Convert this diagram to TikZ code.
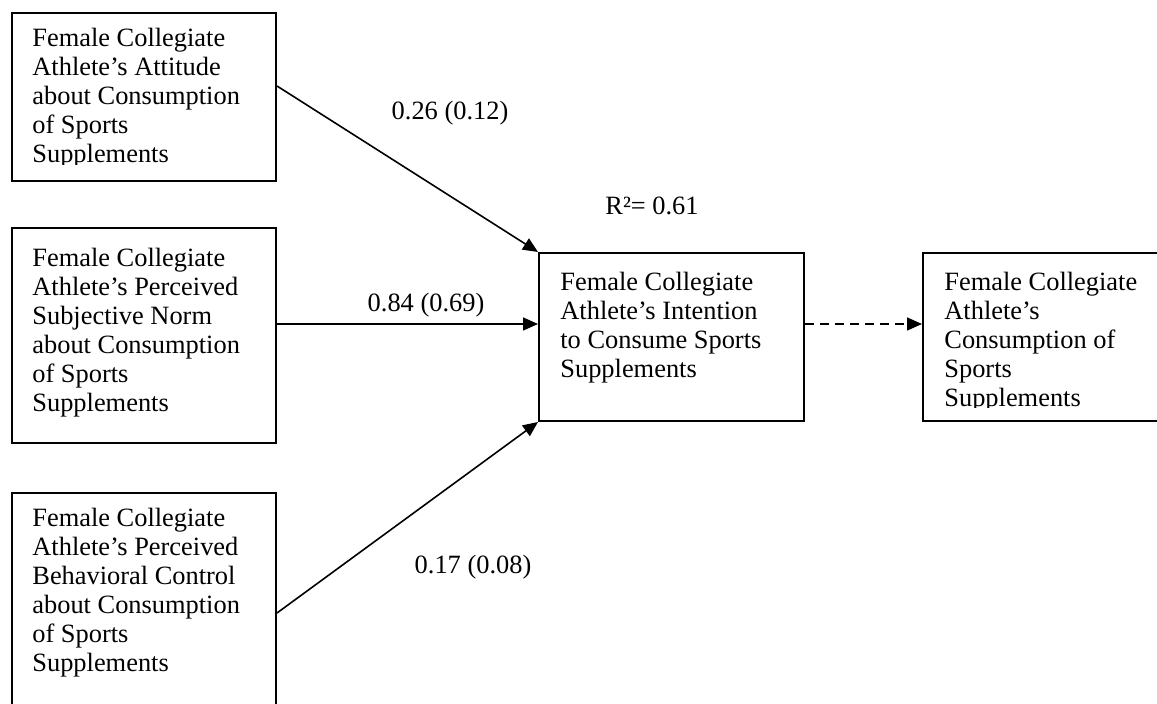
\documentclass[tikz,border=0pt]{standalone}
\usepackage{fontspec}
\setmainfont{Liberation Serif}
\usetikzlibrary{arrows.meta}

\begin{document}
\begin{tikzpicture}[
    x=0.5pt, y=-0.5pt,
    >={Triangle[length=7.5pt, width=6.5pt]},
    every node/.style={font=\fontsize{13.2}{14.5}\selectfont},
    box/.style={draw, line width=1pt, rectangle, inner sep=0pt, anchor=north west},
    boxtext/.style={anchor=base west, inner sep=0pt},
    coef/.style={anchor=base, inner sep=0pt},
    arr/.style={->, line width=0.8pt},
]
    \useasboundingbox (0,0) rectangle (1157,704);

    % ── Predictor boxes ──────────────────────────
    \node[box, minimum width=132pt, minimum height=84pt] (att) at (11,12) {};
    \begin{scope}
        \clip (11,12) rectangle (275,165);
        \node[boxtext] (att-txt) at (32,47) {\parbox[t]{125pt}{\raggedright
            Female Collegiate\\ Athlete’s Attitude\\ about Consumption\\
            of Sports\\ Supplements}};
    \end{scope}

    \node[box, minimum width=132pt, minimum height=107.5pt] (norm) at (11,227) {};
    \node[boxtext] (norm-txt) at (32,267) {\parbox[t]{125pt}{\raggedright
        Female Collegiate\\ Athlete’s Perceived\\ Subjective Norm\\
        about Consumption\\ of Sports\\ Supplements}};

    \node[box, minimum width=132pt, minimum height=110pt] (pbc) at (11,492) {};
    \node[boxtext] (pbc-txt) at (32,527) {\parbox[t]{125pt}{\raggedright
        Female Collegiate\\ Athlete’s Perceived\\ Behavioral Control\\
        about Consumption\\ of Sports\\ Supplements}};

    % ── Intention box ────────────────────────────
    \node[box, minimum width=132.5pt, minimum height=84pt] (int) at (538,252) {};
    \node[boxtext] (int-txt) at (560,291) {\parbox[t]{125pt}{\raggedright
        Female Collegiate\\ Athlete’s Intention\\ to Consume Sports\\
        Supplements}};

    % ── Behaviour box (runs off the right edge) ──
    \node[box, minimum width=122pt, minimum height=84pt] (cons) at (922,252) {};
    \begin{scope}
        \clip (922,252) rectangle (1165,408);
        \node[boxtext] (cons-txt) at (944,291) {\parbox[t]{125pt}{\raggedright
            Female Collegiate\\ Athlete’s\\ Consumption of\\
            Sports\\ Supplements}};
    \end{scope}

    % ── Paths ─────────────────────────────────────
    \draw[arr] ([yshift=5.5pt]att.east) -- (int.north west);
    \draw[arr] ([yshift=5.75pt]norm.east) -- ([yshift=5.75pt]norm.east -| int.west);
    \draw[arr] ([yshift=-5pt]pbc.east) -- (int.south west);
    \draw[arr, dash pattern=on 4.5pt off 3pt]
        ([yshift=6.5pt]int.east) -- ([yshift=6.5pt]int.east -| cons.west);

    % ── Coefficients ─────────────────────────────
    \node[coef] (c-att) at (450,120) {0.26 (0.12)};
    \node[coef] (c-norm) at (426,312) {0.84 (0.69)};
    \node[coef] (c-pbc) at (473,574) {0.17 (0.08)};
    \node[coef, anchor=base west] (rsq) at (605,215) {R²= 0.61};
\end{tikzpicture}
\end{document}
